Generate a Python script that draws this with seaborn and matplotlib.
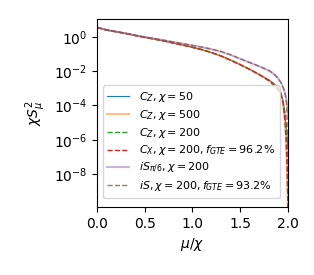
import numpy as np
import pandas as pd
import matplotlib
matplotlib.use('Agg')
import matplotlib.pyplot as plt
import seaborn as sns

# mu/chi grid
mu = [0.0, 0.1, 0.2, 0.3, 0.4, 0.5, 0.6, 0.7, 0.8, 0.9, 1.0, 1.1, 1.2, 1.3, 1.4,
      1.5, 1.6, 1.7, 1.8, 1.85, 1.9, 1.93, 1.95, 1.97, 1.98, 1.99, 2.0]

# log10(chi S_mu^2)
lg_cz = [0.55, 0.4, 0.3, 0.2, 0.08, -0.03, -0.13, -0.24, -0.36, -0.48, -0.61, -0.75, -0.92,
         -1.12, -1.36, -1.62, -1.9, -2.2, -2.55, -2.8, -3.1, -3.4, -3.9, -5.0, -6.0, -7.5, -9.9]
lg_cz50 = [0.55, 0.4, 0.3, 0.2, 0.08, -0.03, -0.13, -0.24, -0.36, -0.48, -0.61, -0.75, -0.92,
           -1.12, -1.36, -1.62, -1.9, -2.2, -2.5, -2.7, -2.95, -3.3, -3.8, -4.6, -5.2, -5.8, -6.4]
lg_cz200 = [0.55, 0.4, 0.3, 0.2, 0.08, -0.03, -0.13, -0.24, -0.36, -0.48, -0.61, -0.75, -0.92,
            -1.12, -1.36, -1.62, -1.9, -2.2, -2.55, -2.8, -3.1, -3.4, -3.8, -4.4, -5.0, -5.8, -8.0]
lg_is = [0.55, 0.4, 0.3, 0.2, 0.09, -0.01, -0.1, -0.2, -0.3, -0.4, -0.5, -0.6, -0.72,
         -0.86, -1.05, -1.28, -1.5, -1.72, -1.96, -2.15, -2.44, -2.7, -2.95, -3.3, -3.6, -3.9, -4.5]
lg_is200 = [0.55, 0.4, 0.3, 0.2, 0.09, -0.01, -0.1, -0.2, -0.3, -0.4, -0.5, -0.6, -0.72,
            -0.86, -1.05, -1.28, -1.5, -1.72, -1.96, -2.15, -2.44, -2.7, -2.95, -3.3, -3.6, -4.2, -9.9]

labels = [r'$C_Z, \chi=50$',
          r'$C_Z, \chi=500$',
          r'$C_Z, \chi=200$',
          r'$C_X, \chi=200, f_{GTE}=96.2\%$',
          r'$iS_{\pi/6}, \chi=200$',
          r'$iS, \chi=200, f_{GTE}=93.2\%$']
series = [lg_cz50, lg_cz, lg_cz200, lg_cz, lg_is, lg_is200]
styles = [dict(color='C0', ls='-', lw=0.8, alpha=1.0),
          dict(color='C1', ls='-', lw=1.5, alpha=0.5),
          dict(color='C2', ls='--', lw=1.0, alpha=1.0),
          dict(color='C3', ls='--', lw=1.0, alpha=1.0),
          dict(color='C4', ls='-', lw=1.5, alpha=0.5),
          dict(color='C5', ls='--', lw=1.0, alpha=0.8)]

fig = plt.figure(figsize=(3.14, 2.75), dpi=100)
ax = fig.add_axes([0.309, 0.247, 0.608, 0.684])

for lab, lg, st in zip(labels, series, styles):
    df = pd.DataFrame({'mu': mu, 'S': 10.0 ** np.array(lg)})
    sns.lineplot(data=df, x='mu', y='S', ax=ax, label=lab, color=st['color'],
                 linestyle=st['ls'], linewidth=st['lw'], alpha=st['alpha'])

ax.set_yscale('log')
ax.set_xlim(0, 2)
ax.set_ylim(1.2e-10, 11)
ax.set_xticks([0.0, 0.5, 1.0, 1.5, 2.0])
ax.set_xlabel(r'$\mu/\chi$')
ax.set_ylabel(r'$\chi S_\mu^2$')
ax.legend(fontsize=8, loc='lower left', bbox_to_anchor=(0.0, 0.02), handlelength=2.0,
          borderpad=0.4, labelspacing=0.35, handletextpad=0.9)

fig.savefig('out.png')
plt.close(fig)
